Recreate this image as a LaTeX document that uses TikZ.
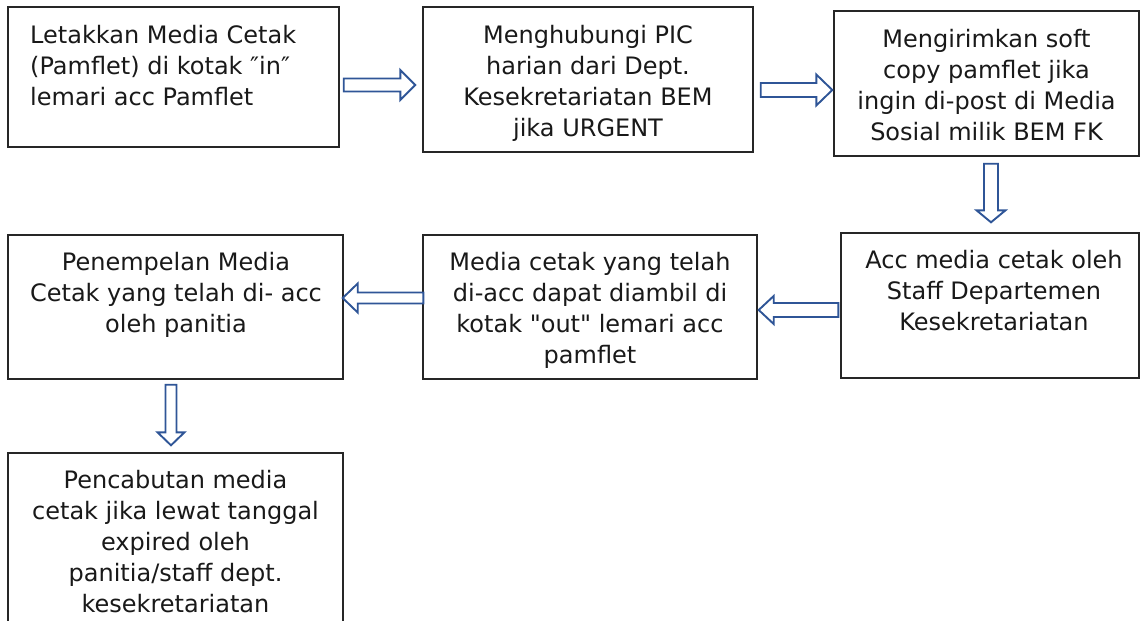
\documentclass[tikz,border=0pt]{standalone}
\usepackage{fontspec}
\setmainfont{DejaVu Sans}[Ligatures=TeXOff]
\usetikzlibrary{calc}
\definecolor{arrowblue}{RGB}{47,85,151}
\newcommand\hblk[5]{%
\draw[blk] ($(#1)+(0,-#3)$) -- ($(#2)+(#5,-#3)$) -- ($(#2)+(#5,-#4)$) -- (#2) -- ($(#2)+(#5,#4)$) -- ($(#2)+(#5,#3)$) -- ($(#1)+(0,#3)$) -- cycle;}
\newcommand\vblk[5]{%
\draw[blk] ($(#1)+(-#3,0)$) -- ($(#2)+(-#3,#5)$) -- ($(#2)+(-#4,#5)$) -- (#2) -- ($(#2)+(#4,#5)$) -- ($(#2)+(#3,#5)$) -- ($(#1)+(#3,0)$) -- cycle;}
\begin{document}
\begin{tikzpicture}[x=1pt,y=-1pt,
  box/.style={draw=black!85, line width=1.4pt, inner sep=0pt},
  txt/.style={font=\fontsize{24}{31}\selectfont, text=black!90, align=center, inner sep=0pt, anchor=north},
  blk/.style={draw=arrowblue, fill=white, line width=1.9pt, line join=miter}]
\useasboundingbox[fill=white] (0,0) rectangle (1141,621);
% boxes
\node[box, minimum width=331, minimum height=140] (b1) at (173.5,77) {};
\node[box, minimum width=330, minimum height=145] (b2) at (588,79.5) {};
\node[box, minimum width=305, minimum height=145] (b3) at (986.5,83.5) {};
\node[box, minimum width=298, minimum height=145] (b4) at (990,305.5) {};
\node[box, minimum width=334, minimum height=144] (b5) at (590,307) {};
\node[box, minimum width=335, minimum height=144] (b6) at (175.5,307) {};
\node[box, minimum width=335, minimum height=227] (b7) at (175.5,566.5) {};
% texts
\node[txt, anchor=north west, align=left] (t1) at (30,21.3) {\strut Letakkan Media Cetak\\(Pamflet) di kotak ″in″\\lemari acc Pamflet};
\node[txt] (t2) at (588,21.3) {\strut Menghubungi PIC\\harian dari Dept.\\Kesekretariatan BEM\\jika URGENT};
\node[txt] (t3) at (986.5,25.3) {\strut Mengirimkan soft\\copy pamflet jika\\ingin di-post di Media\\Sosial milik BEM FK};
\node[txt] (t4) at (994,246.3) {\strut Acc media cetak oleh\\Staff Departemen\\Kesekretariatan};
\node[txt] (t5) at (590,248.3) {\strut Media cetak yang telah\\di-acc dapat diambil di\\kotak "out" lemari acc\\pamflet};
\node[txt] (t6) at (176,248.3) {\strut Penempelan Media\\Cetak yang telah di- acc\\oleh panitia};
\node[txt] (t7) at (175.5,466.3) {\strut Pencabutan media\\cetak jika lewat tanggal\\expired oleh\\panitia/staff dept.\\kesekretariatan};
% connector end points
\coordinate (a1s) at ($(b1.east)+(4,8)$);
\coordinate (a1t) at ($(b2.west)+(-7,5.5)$);
\coordinate (a2s) at ($(b2.east)+(7,10.5)$);
\coordinate (a2t) at ($(b3.west)+(-1,6.5)$);
\coordinate (a3s) at ($(b3.south)+(4.5,7)$);
\coordinate (a3t) at ($(b4.north)+(1,-10)$);
\coordinate (a4s) at ($(b4.west)+(-2,4.5)$);
\coordinate (a4t) at ($(b5.east)+(1,3)$);
\coordinate (a5s) at ($(b5.west)+(1,-9)$);
\coordinate (a5t) at ($(b6.east)+(-1,-9)$);
\coordinate (a6s) at ($(b6.south)+(-4.5,5)$);
\coordinate (a6t) at ($(b7.north)+(-4.5,-7)$);
% block arrows
\hblk{a1s}{a1t}{6.5}{15}{-15}
\hblk{a2s}{a2t}{7}{15.5}{-16}
\vblk{a3s}{a3t}{7}{14.5}{-12}
\hblk{a4s}{a4t}{7}{14}{15}
\hblk{a5s}{a5t}{5.5}{14.5}{15}
\vblk{a6s}{a6t}{5.5}{13.5}{-13}
\end{tikzpicture}
\end{document}
